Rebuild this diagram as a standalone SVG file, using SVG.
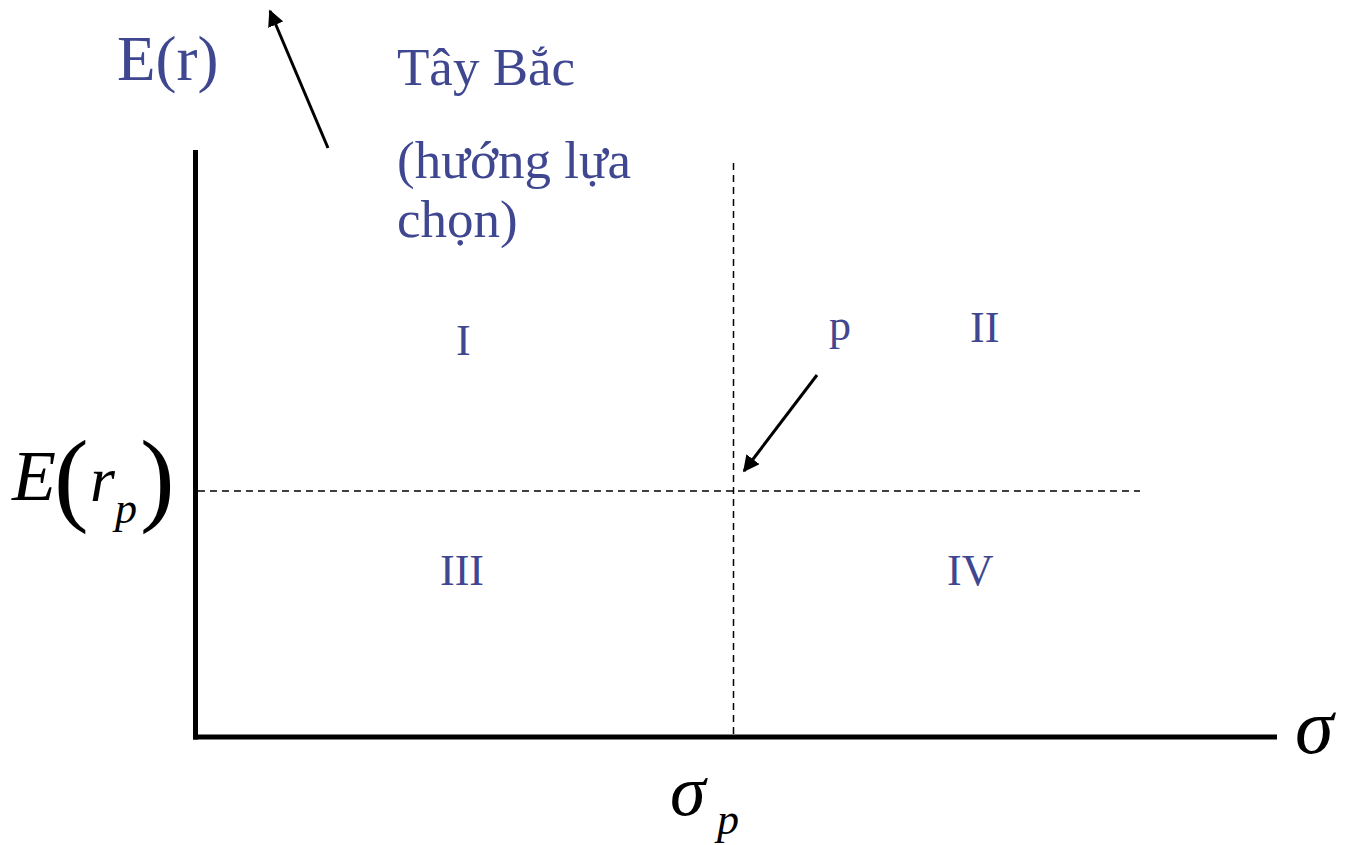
<svg xmlns="http://www.w3.org/2000/svg" width="1345" height="845" viewBox="0 0 1345 845">
<style>
.lbl{font-family:"Liberation Serif","Times New Roman",serif;fill:#3f4791}
.math{font-family:"Liberation Serif","Times New Roman",serif;fill:#000;font-style:italic}
.axis{stroke:#000;stroke-width:5;fill:none}
.dash{stroke:#000;stroke-width:1.5;stroke-dasharray:7 5;fill:none}
.arr{stroke:#000;stroke-width:3;fill:none;marker-end:url(#ah)}
</style>
<defs>
<marker id="ah" viewBox="0 0 10 10" refX="9" refY="5" markerWidth="5.5" markerHeight="5.5" orient="auto" markerUnits="strokeWidth">
<path d="M0,0 L10,5 L0,10 z" fill="#000"/>
</marker>
</defs>
<rect width="1345" height="845" fill="#fff"/>
<g id="axes">
<line class="axis" x1="195.5" y1="150" x2="195.5" y2="739.5"/>
<line class="axis" x1="193" y1="737" x2="1277" y2="737"/>
</g>
<g id="connectors">
<line class="dash" x1="198" y1="491" x2="1140" y2="491"/>
<line class="dash" x1="733.5" y1="163" x2="733.5" y2="735"/>
<line class="arr" x1="328" y1="148" x2="270" y2="11"/>
<line class="arr" x1="817" y1="375" x2="744" y2="471"/>
</g>
<g id="label-Er"><text class="lbl" x="117" y="80" font-size="63">E(r)</text></g>
<g id="label-taybac">
<text class="lbl" x="397" y="85" font-size="53">Tây Bắc</text>
<text class="lbl" x="397" y="178" font-size="53">(hướng lựa</text>
<text class="lbl" x="397" y="237" font-size="53">chọn)</text>
</g>
<g id="q1"><text class="lbl" x="456" y="355" font-size="44">I</text></g>
<g id="p"><text class="lbl" x="829" y="340" font-size="44">p</text></g>
<g id="q2"><text class="lbl" x="970" y="342" font-size="44">II</text></g>
<g id="q3"><text class="lbl" x="440" y="585" font-size="44">III</text></g>
<g id="q4"><text class="lbl" x="947" y="585" font-size="44">IV</text></g>
<g id="label-Erp">
<text class="math" x="12" y="500" font-size="72">E</text>
<text x="54" y="512" font-size="104" font-family="Liberation Serif,serif" fill="#000">(</text>
<text class="math" x="90" y="501" font-size="64">r</text>
<text class="math" x="115" y="523" font-size="44">p</text>
<text x="140" y="512" font-size="104" font-family="Liberation Serif,serif" fill="#000">)</text>
</g>
<g id="label-sigma-p">
<text class="math" x="670" y="815" font-size="72">σ</text>
<text class="math" x="717" y="834" font-size="44">p</text>
</g>
<g id="label-sigma"><text class="math" x="1295" y="753" font-size="78">σ</text></g>
</svg>
